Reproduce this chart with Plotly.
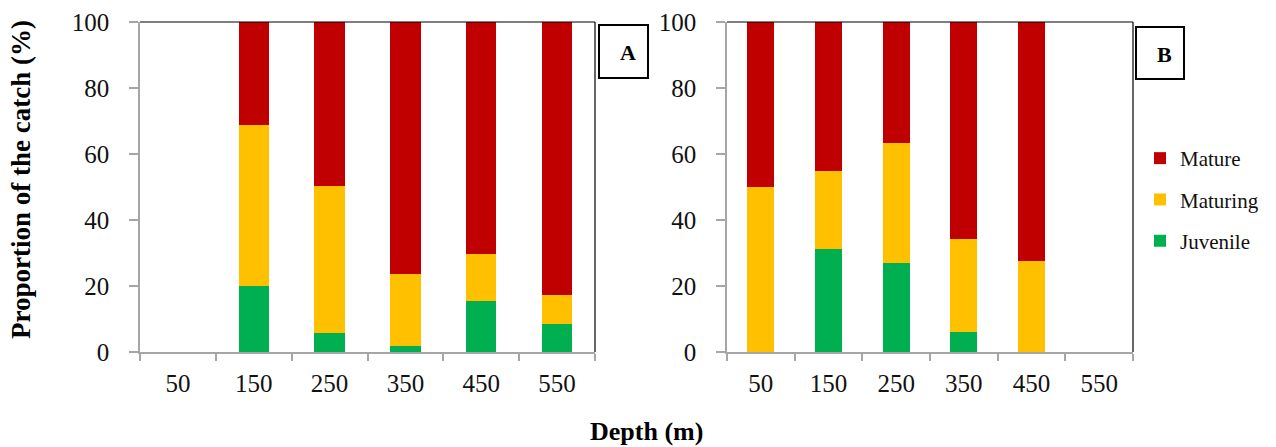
import plotly.graph_objects as go

depths = ["50", "150", "250", "350", "450", "550"]

# Panel A
a_juvenile = [0, 20.0, 5.7, 1.7, 15.4, 8.4]
a_maturing = [0, 48.7, 44.7, 21.8, 14.3, 8.9]
a_mature = [0, 31.3, 49.6, 76.5, 70.3, 82.7]

# Panel B
b_juvenile = [0, 31.2, 26.9, 6.0, 0, 0]
b_maturing = [50.0, 23.8, 36.4, 28.3, 27.6, 0]
b_mature = [50.0, 45.0, 36.7, 65.7, 72.4, 0]

col_juv = "#00B050"
col_matg = "#FFC000"
col_mat = "#C00000"

FONT = "Liberation Serif, Times New Roman, serif"
AXC = "#a6a6a6"

fig = go.Figure()

for xa, ya, juv, matg, mat, show in [
    ("x", "y", a_juvenile, a_maturing, a_mature, False),
    ("x2", "y2", b_juvenile, b_maturing, b_mature, True),
]:
    fig.add_trace(go.Bar(x=depths, y=juv, name="Juvenile", marker_color=col_juv,
                         marker_line_width=0, xaxis=xa, yaxis=ya, showlegend=show,
                         legendrank=3, legendgroup="juv"))
    fig.add_trace(go.Bar(x=depths, y=matg, name="Maturing", marker_color=col_matg,
                         marker_line_width=0, xaxis=xa, yaxis=ya, showlegend=show,
                         legendrank=2, legendgroup="matg"))
    fig.add_trace(go.Bar(x=depths, y=mat, name="Mature", marker_color=col_mat,
                         marker_line_width=0, xaxis=xa, yaxis=ya, showlegend=show,
                         legendrank=1, legendgroup="mat"))

W, H = 1276, 447
y0 = (H - 352) / H
y1 = (H - 22) / H

xaxis_common = dict(
    type="category", showgrid=False, showline=True, linecolor=AXC, linewidth=1.5,
    ticks="outside", tickson="boundaries", ticklen=7, tickcolor=AXC, tickwidth=1.5,
    tickfont=dict(family=FONT, size=25, color="#111111"),
    ticklabelstandoff=8, automargin=False, fixedrange=True,
)
yaxis_common = dict(
    range=[0, 100], dtick=20, showgrid=False, showline=True, linecolor=AXC,
    linewidth=1.5, ticks="outside", ticklen=9, tickcolor=AXC, tickwidth=1.5,
    tickfont=dict(family=FONT, size=25, color="#111111"), domain=[y0, y1],
    ticklabelstandoff=15, zeroline=False, automargin=False,
)

fig.update_layout(
    width=W, height=H,
    margin=dict(l=0, r=0, t=0, b=0, pad=0, autoexpand=False),
    paper_bgcolor="white", plot_bgcolor="white",
    barmode="stack", bargap=0.6,
    font=dict(family=FONT, color="#111111"),
    xaxis=dict(domain=[140 / W, 595 / W], anchor="y", **xaxis_common),
    xaxis2=dict(domain=[727 / W, 1133 / W], anchor="y2", **xaxis_common),
    yaxis=dict(anchor="x", **yaxis_common),
    yaxis2=dict(anchor="x2", **yaxis_common),
    legend=dict(x=1140 / W, y=(H - 138) / H, xanchor="left", yanchor="top",
                font=dict(family=FONT, size=21, color="#111111"),
                traceorder="grouped", tracegroupgap=11,
                bgcolor="rgba(0,0,0,0)", itemwidth=30),
    showlegend=True,
)

# top and right black borders
for xr, yr in [("x domain", "y domain"), ("x2 domain", "y2 domain")]:
    fig.add_shape(type="line", xref=xr, yref=yr, x0=0, x1=1, y0=1, y1=1,
                  line=dict(color="black", width=1.2))
    fig.add_shape(type="line", xref=xr, yref=yr, x0=1, x1=1, y0=0, y1=1,
                  line=dict(color="black", width=1.2))

# panel label boxes
for (bx0, by0, bx1, by1, lab) in [(599, 25, 648, 78, "A"), (1136, 27, 1184, 79, "B")]:
    fig.add_shape(type="rect", xref="paper", yref="paper",
                  x0=bx0 / W, x1=bx1 / W, y0=(H - by1) / H, y1=(H - by0) / H,
                  line=dict(color="black", width=2), fillcolor="white")
    fig.add_annotation(x=((bx0 + bx1) / 2 + 4) / W, y=(H - (by0 + by1) / 2 - 1) / H,
                       xref="paper", yref="paper", text="<b>%s</b>" % lab,
                       showarrow=False, font=dict(family=FONT, size=22, color="black"),
                       xanchor="center", yanchor="middle")

# axis titles
fig.add_annotation(x=21 / W, y=(H - 180) / H, xref="paper", yref="paper",
                   text="<b>Proportion of the catch (%)</b>", textangle=-90,
                   showarrow=False, font=dict(family=FONT, size=27, color="black"),
                   xanchor="center", yanchor="middle")
fig.add_annotation(x=646 / W, y=(H - 431) / H, xref="paper", yref="paper",
                   text="<b>Depth (m)</b>", showarrow=False,
                   font=dict(family=FONT, size=26, color="black"),
                   xanchor="center", yanchor="middle")

fig.write_html("out.html")
